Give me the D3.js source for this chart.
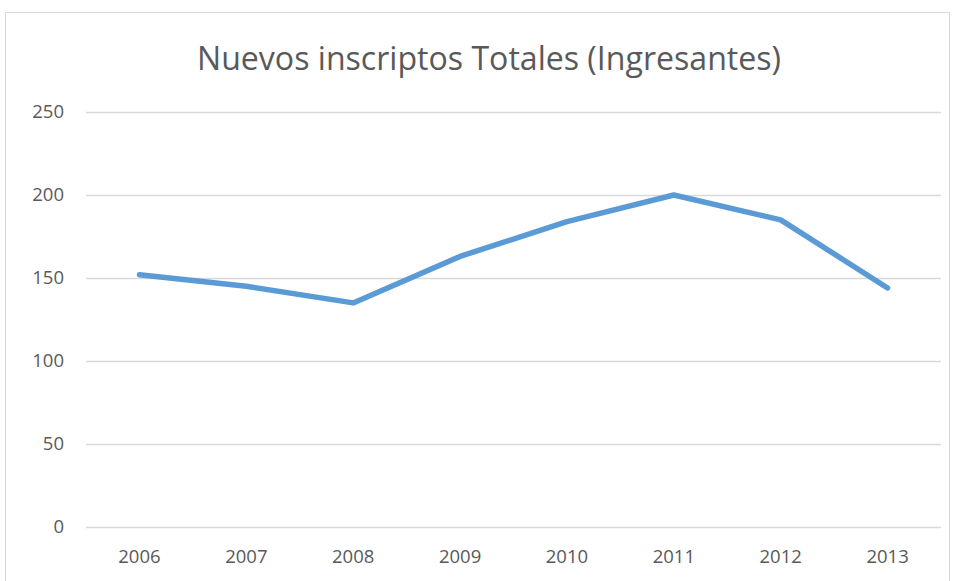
<!DOCTYPE html>
<html><head><meta charset="utf-8">
<script src="https://cdn.jsdelivr.net/npm/d3@7"></script>
<style>body{margin:0;background:#fff;}svg{display:block;}</style>
</head><body>
<script>
const categories = ["2006","2007","2008","2009","2010","2011","2012","2013"];
const values = [152, 145, 135, 163, 184, 200, 185, 144];
const yTicks = [0, 50, 100, 150, 200, 250];
const chartTitle = "Nuevos inscriptos Totales (Ingresantes)";

(function(){
const W = 955, H = 581;
const svg = d3.select("body").append("svg").attr("width", W).attr("height", H);
svg.append("rect").attr("x", 5.5).attr("y", 12.5).attr("width", 944).attr("height", 600)
  .attr("fill", "#fff").attr("stroke", "#d9d9d9").attr("stroke-width", 1);

const pl = 86, pr = 941, pt = 112, pb = 527;
const x = d3.scaleBand().domain(categories).range([pl, pr]);
const y = d3.scaleLinear().domain([0, 250]).range([pb, pt]);

svg.append("text").attr("x", 489).attr("y", 70).attr("text-anchor", "middle")
  .attr("font-family", "Open Sans, sans-serif").attr("font-size", 32).attr("fill", "#595959")
  .attr("textLength", 584).attr("lengthAdjust", "spacingAndGlyphs").text(chartTitle);

const yAxis = svg.append("g").attr("transform", `translate(${pl},0)`)
  .call(d3.axisLeft(y).tickValues(yTicks).tickSize(-(pr-pl)).tickPadding(22));
yAxis.select(".domain").remove();
yAxis.selectAll("line").attr("stroke", "#d9d9d9").attr("stroke-width", 1.5);
yAxis.selectAll("text").attr("font-family", "Open Sans, sans-serif").attr("font-size", 18.5).attr("fill", "#595959");

const xAxis = svg.append("g").attr("transform", `translate(0,${pb})`)
  .call(d3.axisBottom(x).tickSize(0).tickPadding(23));
xAxis.select(".domain").remove();
xAxis.selectAll("text").attr("font-family", "Open Sans, sans-serif").attr("font-size", 18.5).attr("fill", "#595959");

const line = d3.line().x((d, i) => x(categories[i]) + x.bandwidth()/2).y(d => y(d));
svg.append("path").datum(values).attr("d", line).attr("fill", "none")
  .attr("stroke", "#5b9bd5").attr("stroke-width", 5.5).attr("stroke-linecap", "round").attr("stroke-linejoin", "round");
})();
</script>
</body></html>
